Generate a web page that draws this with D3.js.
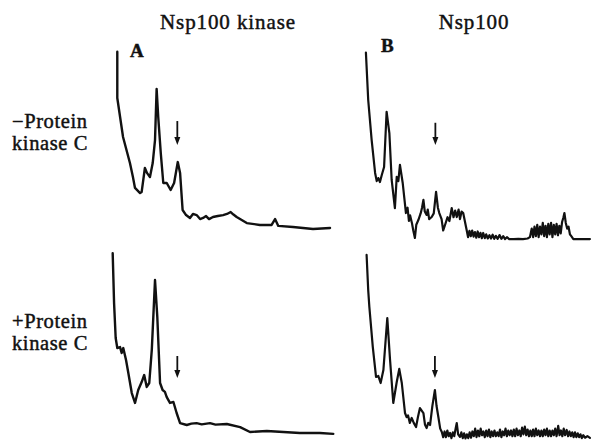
<!DOCTYPE html>
<html>
<head>
<meta charset="utf-8">
<script src="https://cdn.jsdelivr.net/npm/d3@7"></script>
<style>
  body { margin: 0; background: #fff; }
  text { font-family: "Liberation Serif", "Times New Roman", serif; fill: #111; stroke: #111; stroke-width: 0.45px; }
</style>
</head>
<body>
<svg id="chart" width="592" height="442"></svg>
<script>
// elution position (0-100) and absorbance (0-100)
const traceA1 = [[2.3,94.9],[2.3,70.5],[4.8,50],[7.8,36.3],[9.1,28.9],[10,23.2],[12.2,20.5],[12.9,21.1],[14.3,33.7],[15.2,31.1],[16.5,28.9],[17.7,36.3],[18.7,48.4],[19.4,75.3],[20.1,60.5],[21.2,41.6],[22.3,25.8],[23.8,25.8],[25.5,22.1],[27,25.8],[28.6,36.8],[29.6,31.1],[30.7,11.6],[32.2,8.9],[33.9,7.4],[35.2,9.5],[36.8,8.9],[38.3,6.8],[39.6,7.4],[40.9,8.4],[42.2,6.8],[43.9,7.9],[46,8.4],[48.3,8.9],[50,9.5],[51.6,10.5],[52.8,9.2],[54.2,7.9],[58.6,4.7],[64.3,3.7],[69.4,3.7],[70.9,6.8],[72.3,3.2],[78.7,2.6],[87.4,1.6],[94.8,2.1]];
const traceB1 = [[1.7,98.6],[2.7,73.7],[4.2,52.6],[5.7,35.3],[6.4,31],[7.1,32.6],[7.8,30.5],[8.6,34.2],[9.6,38.4],[10.7,67.5],[11.9,56.3],[12.9,31.6],[14.3,16.8],[15.1,33.2],[15.8,31],[16.5,39.5],[17.7,30],[19.1,14.2],[19.8,17],[20.4,10],[20.9,13],[21.7,9],[22.3,5],[23,1.1],[23.6,8],[24.5,10.5],[25.5,14],[26.1,17],[26.7,21.1],[27.3,15],[28.1,13.2],[28.6,16],[29.2,11],[30.3,12.1],[31.2,14],[32.2,25.3],[33,17],[33.6,14.2],[34.6,11],[35.3,5],[36.1,7.9],[37.2,12],[38,10],[39,16.8],[39.8,12],[40.5,15.5],[41.2,12.1],[42,16],[42.6,11],[43.3,15],[44,14.2],[45.5,5.3],[46.1,1.5],[46.7,4.8],[47.3,2],[47.9,5],[48.5,1.8],[49.1,4.2],[49.7,1.2],[50.3,4.5],[50.9,1.5],[51.5,3.8],[52.1,1],[52.7,3.7],[53.4,1],[54,3],[54.7,0.8],[55.4,2.5],[56.1,0.8],[56.8,2.8],[57.5,0.6],[58.2,2.2],[59,0.6],[59.8,2.6],[60.6,0.6],[61.4,2],[62.2,0.5],[63,1.5],[64,0.5],[66,0.5],[68,0.6],[70,0.5],[72,0.8],[73,1.5],[73.8,6],[74.4,1.5],[75,7],[75.6,2],[76.2,8],[76.8,1.5],[77.4,7],[78,3],[78.6,9],[79.2,2],[79.8,7.5],[80.4,1.5],[81,8.5],[81.6,3],[82.2,9],[82.8,1.5],[83.4,8],[84,3],[84.6,8.5],[85.2,2.5],[85.8,7.5],[86.4,3.5],[87,9.5],[87.6,12],[88,14.2],[88.6,9],[89.2,6],[89.8,7],[90.4,3],[91,2],[91.9,0.5],[95,0.5],[99.1,0.5]];
const traceA2 = [[0.3,96.2],[0.9,70],[1.6,51.6],[2.3,46.3],[3.5,46.8],[4.2,43.7],[4.9,46.3],[6.1,40],[7.1,33.2],[8.6,22.6],[10,17.4],[11.4,24.2],[12.9,28.4],[14,32.1],[15.1,25.8],[16.2,27.9],[17.3,45.3],[18.7,82.1],[19.7,62.6],[20.9,27.9],[22,24.2],[23,23.2],[23.8,20.5],[25.2,17.4],[26.7,17.9],[28.1,12.1],[29.6,6.8],[32.5,5.8],[34.5,6.5],[36.8,6.8],[39,6.1],[42.6,6.8],[45,6],[49.9,6.3],[55.7,4.7],[60,2.1],[67.3,2.6],[74.5,2.1],[81.7,1.6],[90.4,1.6],[96.2,1.1]];
const traceB2 = [[2,97.4],[2.7,78.9],[3.2,70],[4.7,48.9],[6.1,33.2],[7.1,33.7],[8.1,30],[9.3,36.8],[11,64.2],[12.2,42.1],[13.6,19.5],[15.1,30.5],[16.2,37.4],[17.3,30],[18.7,14.2],[19.4,12],[20,13],[20.8,9],[21.6,11.6],[22.5,9],[23.5,6.8],[24.3,12],[25.2,16.8],[26.7,14.2],[27.4,8],[28.1,6.3],[28.8,9],[29.6,7.9],[30.6,18],[31.7,26.3],[32.4,18],[33.2,12.1],[34,6],[34.7,4.2],[35.3,1.5],[35.9,4.5],[36.5,1.5],[37.1,5],[37.7,2],[38.3,3.7],[38.9,1],[39.5,4],[40.1,2],[40.7,6],[41.2,8.9],[41.8,3],[42.6,1.6],[43.2,4],[43.8,1],[44.4,3.5],[45,0.8],[45.6,3],[46.2,1],[46.8,4],[47.4,1.2],[48,4.5],[48.6,2],[49.2,6],[49.8,1.5],[50.4,5],[51,2],[51.6,6],[52.2,2.5],[52.8,4.5],[53.4,1.5],[54,5],[54.6,2],[55.2,5.5],[55.8,1.5],[56.4,4.5],[57,2],[57.6,5],[58.2,2],[58.8,4],[59.4,2],[60,5.5],[60.6,1.5],[61.2,4.5],[61.8,2.5],[62.4,6],[63,2],[63.6,5],[64.2,2.5],[64.8,5],[65.4,2],[66,5.5],[66.6,2],[67.2,6],[67.8,2.5],[68.4,5],[69,2],[69.6,6.5],[70.2,3],[70.8,7],[71.4,2.5],[72,5.5],[72.6,2],[73.2,5],[73.8,2],[74.4,5.5],[75,2],[75.6,6],[76.2,2.5],[76.8,5],[77.4,2],[78,5],[78.6,2],[79.2,5.5],[79.8,2.5],[80.4,6],[81,2],[81.6,5],[82.2,2],[82.8,5],[83.4,2.5],[84,6],[84.6,2],[85.3,7.4],[85.9,2.5],[86.5,5],[87.1,2],[87.7,6],[88.3,2.5],[89,5.3],[89.6,2],[90.2,4.5],[90.8,2],[91.4,4],[92,1.5],[92.6,4],[93.2,1.5],[93.8,3.5],[94.4,1.5],[95,3],[95.6,1],[96.2,2.5],[97,1.2],[98,2],[99.1,1.1]];

const arrowsX = [28.4, 31.9, 28.4, 31.7];          // arrow position in each panel
const arrowsY = [[58.4, 45.8], [61.7, 50], [42.1, 30.5], [44.2, 32.6]]; // tail, tip

const panelLetters = ["A", "B"];
const columnTitles = ["Nsp100 kinase", "Nsp100"];
const rowLabels = [["\u2212Protein", "kinase C"], ["+Protein", "kinase C"]];

const svg = d3.select("#chart");

const x = d3.scaleLinear().domain([0, 100]).range([0, 230]);
const y = d3.scaleLinear().domain([0, 100]).range([0, -190]);

// panel origins (left edge, baseline)
const panels = [
    { trace: traceA1, ox: 112, oy: 232, w: 2.4 },
    { trace: traceB1, ox: 362, oy: 240, w: 2.2 },
    { trace: traceA2, ox: 112, oy: 436, w: 2.4 },
    { trace: traceB2, ox: 362, oy: 440, w: 2.2 }
];

const line = d3.line()
    .x(d => x(d[0]))
    .y(d => y(d[1]));

panels.forEach((p, i) => {
    const g = svg.append("g")
        .attr("transform", `translate(${p.ox},${p.oy})`);

    g.append("path")
        .datum(p.trace)
        .attr("d", line)
        .attr("fill", "none")
        .attr("stroke", "#111")
        .attr("stroke-width", p.w)
        .attr("stroke-linejoin", "round")
        .attr("stroke-linecap", "round");

    // arrow marking the peak
    const ax = x(arrowsX[i]);
    const [y0, y1] = arrowsY[i].map(y);
    g.append("line")
        .attr("x1", ax).attr("x2", ax)
        .attr("y1", y0).attr("y2", y1 - 4)
        .attr("stroke", "#111")
        .attr("stroke-width", 1.8);
    g.append("path")
        .attr("d", `M${ax - 3},${y1 - 8}L${ax + 3},${y1 - 8}L${ax},${y1}Z`)
        .attr("fill", "#111");
});

// column titles
svg.selectAll(".col-title")
    .data(columnTitles)
    .enter()
    .append("text")
    .attr("class", "col-title")
    .attr("x", (d, i) => i === 0 ? 228 : 474)
    .attr("y", 29)
    .attr("text-anchor", "middle")
    .style("font-size", "21px")
    .style("letter-spacing", "0.9px")
    .text(d => d);

// panel letters
svg.selectAll(".letter")
    .data(panelLetters)
    .enter()
    .append("text")
    .attr("class", "letter")
    .attr("x", (d, i) => i === 0 ? 130 : 381)
    .attr("y", (d, i) => i === 0 ? 57 : 52)
    .style("font-size", "19px")
    .style("font-weight", "bold")
    .text(d => d);

// row labels, two separate lines each
rowLabels.forEach((lines, r) => {
    svg.selectAll(`.row-label-${r}`)
        .data(lines)
        .enter()
        .append("text")
        .attr("class", `row-label-${r}`)
        .attr("x", 12)
        .attr("y", (d, k) => (r === 0 ? 128 : 328) + k * 22)
        .style("font-size", "20.5px")
        .style("letter-spacing", "0.6px")
        .text(d => d);
});
</script>
</body>
</html>
